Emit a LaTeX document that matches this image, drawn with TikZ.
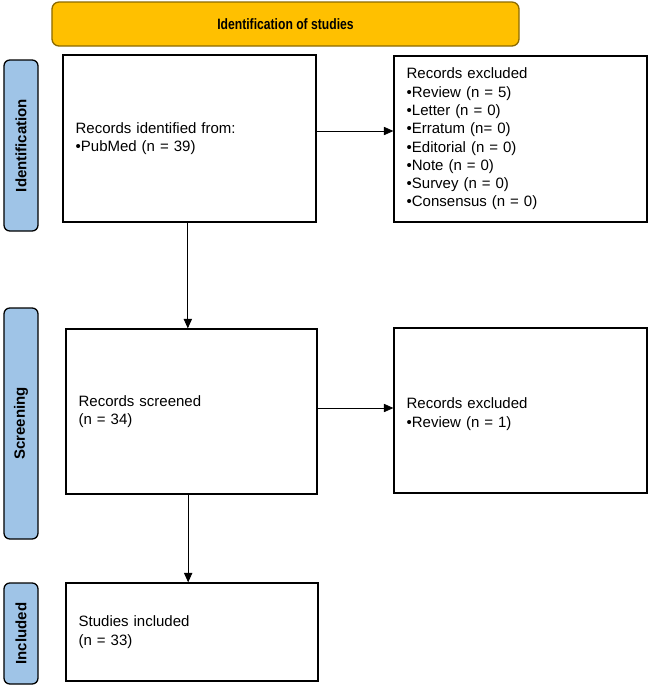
\documentclass[tikz,border=0pt]{standalone}
\usepackage{fontspec}
\setmainfont{Liberation Sans}
\newfontfamily\headfont[FakeStretch=0.81]{Liberation Sans}
\usepackage{tikz}
\usetikzlibrary{arrows.meta}
\definecolor{headfill}{HTML}{FFC000}
\definecolor{headline}{HTML}{8C6A00}
\definecolor{stagefill}{HTML}{9FC4E7}

\begin{document}
\begin{tikzpicture}[x=0.03cm, y=-0.03cm,
        box/.style={rectangle, draw, line width=1.1pt, inner xsep=0.38cm, align=left,
            font=\fontsize{12.8}{15.6}\selectfont},
        stage/.style={rectangle, rounded corners=5pt, draw, line width=1.1pt, fill=stagefill,
            minimum width=1.02cm, font=\fontsize{12.8}{15.6}\selectfont\bfseries},
        arr/.style={-{Triangle[length=8pt, width=7pt]}, line width=0.7pt}]
        \useasboundingbox (0,0) rectangle (649,687);

        % Header
        \node[rectangle, rounded corners=6pt, draw=headline, line width=1.1pt, fill=headfill,
            minimum width=14.01cm, minimum height=1.32cm,
            font=\fontsize{12.8}{15.6}\headfont\bfseries] (head) at (285.5, 24) {Identification of studies};

        % Stages
        \node[stage, minimum height=5.13cm] (ident) at (21, 145.5) {\rotatebox{90}{Identification}};
        \node[stage, minimum height=6.93cm] (screen) at (21, 423.5) {\rotatebox{90}{Screening}};
        \node[stage, minimum height=3.03cm] (incl) at (21, 633.5) {\rotatebox{90}{Included}};

        % Nodes
        \node[box, text width=6.83cm, minimum height=5.01cm] (recid) at (189.5, 138.5)
            {Records identified from:\\•PubMed (n = 39)};
        \node[box, text width=6.83cm, minimum height=4.98cm] (recexcl) at (520.5, 139)
            {Records excluded\\•Review (n = 5)\\•Letter (n = 0)\\•Erratum (n= 0)\\•Editorial (n = 0)\\•Note (n = 0)\\•Survey (n = 0)\\•Consensus (n = 0)};
        \node[box, text width=6.77cm, minimum height=4.95cm] (recscr) at (191.5, 411.5)
            {Records screened\\(n = 34)};
        \node[box, text width=6.83cm, minimum height=4.95cm] (recexcl2) at (520.5, 410.5)
            {\mbox{}\\Records excluded\\•Review (n = 1)};
        \node[box, text width=6.80cm, minimum height=2.94cm] (studinc) at (192, 632)
            {Studies included\\(n = 33)};

        % Edges
        \draw[arr] ([yshift=0.225cm]recid.east) -- ([yshift=0.225cm]recid.east -| recexcl.west);
        \draw[arr] ([xshift=-0.05cm]recid.south) -- ([xshift=-0.05cm]recid.south |- recscr.north);
        \draw[arr] ([yshift=0.105cm]recscr.east) -- ([yshift=0.105cm]recscr.east -| recexcl2.west);
        \draw[arr] ([xshift=-0.1cm]recscr.south) -- ([xshift=-0.1cm]recscr.south |- studinc.north);
    \end{tikzpicture}
\end{document}
